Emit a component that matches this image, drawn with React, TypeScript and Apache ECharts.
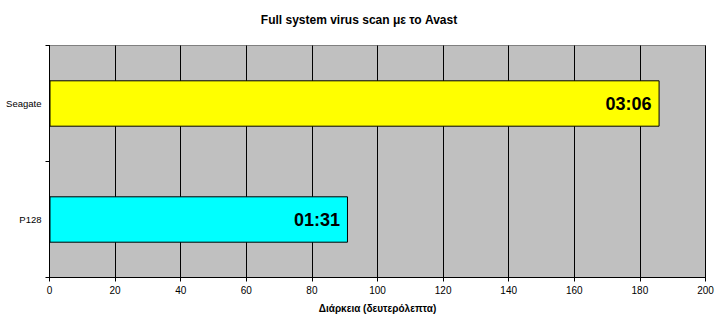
import React, { useEffect, useRef } from "react";
import * as echarts from "echarts";

const categories = ["Seagate", "P128"];
const durations = [186, 91];
const barLabels = ["03:06", "01:31"];
const barColors = ["#FFFF00", "#00FFFF"];
const xTicks = { min: 0, max: 200, interval: 20 };

export default function App() {
  const ref = useRef<HTMLDivElement>(null);
  useEffect(() => {
    if (!ref.current) return;
    const chart = echarts.init(ref.current, null, { renderer: "svg" });
    chart.setOption({
      animation: false,
      backgroundColor: "#FFFFFF",
      title: {
        text: "Full system virus scan με το Avast",
        left: "center",
        top: 9,
        textStyle: {
          fontFamily: "'Liberation Sans', Arial, sans-serif",
          fontSize: 12,
          fontWeight: "bold",
          color: "#000",
        },
      },
      grid: {
        left: 49.5,
        right: 12.5,
        top: 45.5,
        bottom: 44.5,
        show: true,
        backgroundColor: "#C0C0C0",
        borderColor: "#808080",
        borderWidth: 1,
      },
      xAxis: {
        type: "value",
        min: xTicks.min,
        max: xTicks.max,
        interval: xTicks.interval,
        name: "Διάρκεια (δευτερόλεπτα)",
        nameLocation: "middle",
        nameGap: 26,
        nameTextStyle: {
          fontFamily: "'Liberation Sans', Arial, sans-serif",
          fontSize: 10,
          fontWeight: "bold",
          color: "#000",
        },
        axisLine: { show: true, lineStyle: { color: "#000", width: 1 } },
        axisTick: { show: true, length: 4, lineStyle: { color: "#000" } },
        axisLabel: {
          fontFamily: "'Liberation Sans', Arial, sans-serif",
          fontSize: 10,
          color: "#000",
          margin: 8,
        },
        splitLine: { show: true, lineStyle: { color: "#000", width: 1 } },
      },
      yAxis: {
        type: "category",
        data: categories,
        inverse: true,
        axisLine: { show: true, lineStyle: { color: "#000", width: 1 } },
        axisTick: { show: true, length: 4, lineStyle: { color: "#000" } },
        axisLabel: {
          fontFamily: "'Liberation Sans', Arial, sans-serif",
          fontSize: 9.5,
          color: "#000",
          margin: 8,
        },
        splitLine: { show: false },
      },
      series: [
        {
          type: "bar",
          data: durations.map((v, i) => ({
            value: v,
            itemStyle: { color: barColors[i] },
            label: { formatter: barLabels[i] },
          })),
          barWidth: "40%",
          itemStyle: { borderColor: "#000", borderWidth: 1 },
          label: {
            show: true,
            position: "insideRight",
            distance: 8,
            fontFamily: "'Liberation Sans', Arial, sans-serif",
            fontSize: 18,
            fontWeight: "bold",
            color: "#000",
          },
        },
      ],
    });
    return () => chart.dispose();
  }, []);
  return (
    <div
      ref={ref}
      style={{ position: "absolute", left: 0, top: 0, width: 718, height: 322 }}
    />
  );
}
